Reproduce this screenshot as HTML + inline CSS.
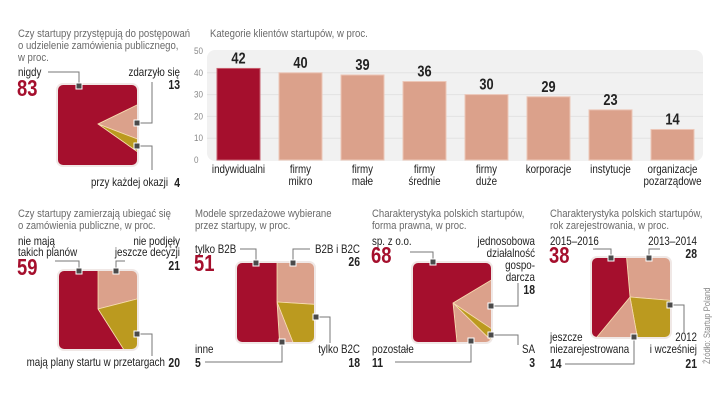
<!DOCTYPE html>
<html><head><meta charset="utf-8"><style>
html,body{margin:0;padding:0;background:#fff;width:720px;height:406px;overflow:hidden}
svg{display:block}
text{font-family:"Liberation Sans Narrow","Liberation Sans",sans-serif}
.t{fill:#6a6a6a;font-size:11px}
.l{fill:#222;font-size:11.5px}
.big{fill:#a50f2d;font-size:23px;font-weight:bold}
.n{fill:#222;font-size:13px;font-weight:bold}
.ax{fill:#888;font-size:9px}
.ld{stroke:#777;stroke-width:1;fill:none}
</style></head><body>
<svg id="c" width="720" height="406" viewBox="0 0 720 406" xmlns="http://www.w3.org/2000/svg">
<rect width="720" height="406" fill="#fff"/>
<g id="bars"></g>
<g id="pies"></g>
<g id="ann">
<text class="t" x="18" y="37">Czy startupy przystępują do postępowań</text>
<text class="t" x="18" y="49">o udzielenie zamówienia publicznego,</text>
<text class="t" x="18" y="61">w proc.</text>
<text class="l" x="18" y="76">nigdy</text>
<text class="big" x="17" y="96">83</text>
<text class="l" x="180" y="76" text-anchor="end">zdarzyło się</text>
<text class="n" x="180" y="89" text-anchor="end">13</text>
<text class="l" x="168" y="186" text-anchor="end">przy każdej okazji</text>
<text class="n" x="180" y="187" text-anchor="end">4</text>
<path class="ld" d="M48 72H79V86M137 123H152V82M137 146H152V170"/>
<text class="t" x="18" y="217">Czy startupy zamierzają ubiegać się</text>
<text class="t" x="18" y="229">o zamówienia publiczne, w proc.</text>
<text class="l" x="18" y="245">nie mają</text>
<text class="l" x="18" y="256">takich planów</text>
<text class="big" x="17" y="275">59</text>
<text class="l" x="180" y="245" text-anchor="end">nie podjęły</text>
<text class="l" x="180" y="256" text-anchor="end">jeszcze decyzji</text>
<text class="n" x="180" y="270" text-anchor="end">21</text>
<text class="l" x="165" y="366" text-anchor="end">mają plany startu w przetargach</text>
<text class="n" x="180" y="367" text-anchor="end">20</text>
<path class="ld" d="M55 261H79V271M116 271V261H125M137 334H152V356"/>
<text class="t" x="195" y="217">Modele sprzedażowe wybierane</text>
<text class="t" x="195" y="229">przez startupy, w proc.</text>
<text class="l" x="195" y="253">tylko B2B</text>
<text class="big" x="194" y="271">51</text>
<text class="l" x="360" y="253" text-anchor="end">B2B i B2C</text>
<text class="n" x="360" y="266" text-anchor="end">26</text>
<text class="l" x="360" y="353" text-anchor="end">tylko B2C</text>
<text class="n" x="360" y="367" text-anchor="end">18</text>
<text class="l" x="195" y="353">inne</text>
<text class="n" x="195" y="367">5</text>
<path class="ld" d="M240 249H256V263M293 263V249H310M316 317H330V343M205 362H282V342"/>
<text class="t" x="372" y="217">Charakterystyka polskich startupów,</text>
<text class="t" x="372" y="229">forma prawna, w proc.</text>
<text class="l" x="372" y="245">sp. z o.o.</text>
<text class="big" x="371" y="263">68</text>
<text class="l" x="535" y="245" text-anchor="end">jednosobowa</text>
<text class="l" x="535" y="257" text-anchor="end">działalność</text>
<text class="l" x="535" y="269" text-anchor="end">gospo-</text>
<text class="l" x="535" y="281" text-anchor="end">darcza</text>
<text class="n" x="535" y="294" text-anchor="end">18</text>
<text class="l" x="535" y="353" text-anchor="end">SA</text>
<text class="n" x="535" y="367" text-anchor="end">3</text>
<text class="l" x="372" y="353">pozostałe</text>
<text class="n" x="372" y="367">11</text>
<path class="ld" d="M410 252H433V262M491 306H518V283M491 335H518V345M395 362H471V341"/>
<text class="t" x="550" y="217">Charakterystyka polskich startupów,</text>
<text class="t" x="550" y="229">rok zarejestrowania, w proc.</text>
<text class="l" x="550" y="245">2015–2016</text>
<text class="big" x="549" y="263">38</text>
<text class="l" x="697" y="245" text-anchor="end">2013–2014</text>
<text class="n" x="697" y="258" text-anchor="end">28</text>
<text class="l" x="697" y="341" text-anchor="end">2012</text>
<text class="l" x="697" y="353" text-anchor="end">i wcześniej</text>
<text class="n" x="697" y="368" text-anchor="end">21</text>
<text class="l" x="550" y="341">jeszcze</text>
<text class="l" x="550" y="353">niezarejestrowana</text>
<text class="n" x="550" y="368">14</text>
<path class="ld" d="M593 249H611V258M649 258V249H660M670 305H684V333M565 364H634V337"/>
<text id="src" x="0" y="0" transform="translate(710,364) rotate(-90) scale(0.85,1)" style="fill:#888;font-size:9px">Źródło: Startup Poland</text>
</g>
<g id="marks"></g>
</svg>
<script>
// ---- Bar chart data ----
const barCategories = [["indywidualni"],["firmy","mikro"],["firmy","małe"],["firmy","średnie"],["firmy","duże"],["korporacje"],["instytucje"],["organizacje","pozarządowe"]];
const barValues = [42,40,39,36,30,29,23,14];
const barTicks = [0,10,20,30,40,50];
const barTitle = "Kategorie klientów startupów, w proc.";

// ---- Square pie data ----
const pie1Values = [13,4,83];
const pie2Values = [21,20,59];
const pie3Values = [26,18,5,51];
const pie4Values = [18,3,11,68];
const pie5Values = [28,21,14,38];

const NS="http://www.w3.org/2000/svg";
function mk(tag,attrs,parent){const e=document.createElementNS(NS,tag);for(const k in attrs)e.setAttribute(k,attrs[k]);parent.appendChild(e);return e;}
const RED="#a50f2d",PEACH="#dba18b",GOLD="#bb9a1f";

const bg=document.getElementById('bars');
const y0=160,y50=51;
const yS=v=>y0-(v/50)*(y0-y50);
const xC=i=>238.5+i*62;
const t=mk('text',{x:210,y:37,class:'t'},bg);t.textContent=barTitle;


const pb=mk('rect',{x:207,y:50,width:496,height:111,rx:8,fill:'#f1f1f1'},bg);


barTicks.forEach(v=>{
  if(v>0&&v<50){mk('line',{x1:207,x2:703,y1:yS(v),y2:yS(v),stroke:'#e2e2e2','stroke-width':1},bg);}
  const tx=mk('text',{x:194,y:yS(v)+3,class:'ax'},bg);tx.textContent=v;
  
  
});
barValues.forEach((v,i)=>{
  const r=mk('rect',{x:xC(i)-21.5,y:yS(v),width:43,height:y0-yS(v),fill:i===0?RED:PEACH,stroke:i===0?'#c8606f':'#ecc6b7','stroke-width':1},bg);
  
  
  const vl=mk('text',{x:xC(i),y:yS(v)-5,'text-anchor':'middle',style:'fill:#222;font-size:16px;font-weight:bold'},bg);vl.textContent=v;
  
  
  barCategories[i].forEach((s,j)=>{
    const c=mk('text',{x:xC(i),y:173+j*12,'text-anchor':'middle',class:'l'},bg);c.textContent=s;
    
    
  });
});

const pg=document.getElementById('pies');
function squarePie(id,x,y,w,h,cx,cy,start,values,colors){
  const g=mk('g',{},pg);
  
  
  mk('rect',{x:x-2,y:y-2,width:w+4,height:h+4,rx:7,fill:'#f0e8e6'},g);
  const cp=mk('clipPath',{id:'cp'+id},g);
  mk('rect',{x:x,y:y,width:w,height:h,rx:5},cp);
  const inner=mk('g',{'clip-path':'url(#cp'+id+')'},g);
  const tot=values.reduce((a,b)=>a+b,0);let a=start*Math.PI/180;const R=150;
  values.forEach((v,i)=>{
    const a2=a+v/tot*2*Math.PI;
    const large=(a2-a)>Math.PI?1:0;
    const p=mk('path',{d:`M${cx} ${cy}L${cx+R*Math.cos(a)} ${cy+R*Math.sin(a)}A${R} ${R} 0 ${large} 1 ${cx+R*Math.cos(a2)} ${cy+R*Math.sin(a2)}Z`,fill:colors[i],stroke:'#f6dcb0','stroke-width':0.8},inner);
    
    
    a=a2;
  });
}
squarePie(1,58,85,79,80,98,124,-26,pie1Values,[PEACH,GOLD,RED]);
squarePie(2,59,271,78,78,98,309,-90,pie2Values,[PEACH,GOLD,RED]);
squarePie(3,237,263,77,79,277,302,-90,pie3Values,[PEACH,GOLD,PEACH,RED]);
squarePie(4,413,263,78,79,453,303,-31,pie4Values,[PEACH,GOLD,PEACH,RED]);
squarePie(5,592,258,78,79,630,297,-95,pie5Values,[PEACH,GOLD,PEACH,RED]);

const mg=document.getElementById('marks');
[[79,86],[137,123],[137,146],[79,271],[116,271],[137,334],[256,263],[293,263],[316,317],[282,342],[433,262],[491,306],[491,335],[471,341],[611,258],[649,258],[670,305],[634,337]].forEach(p=>{
  const m=mk('rect',{x:p[0]-3,y:p[1]-3,width:6,height:6,fill:'#4a4a4a',stroke:'#fff','stroke-width':1},mg);
  
  
});

// condense text horizontally (narrow font emulation)
document.querySelectorAll('svg text').forEach(el=>{
  if(el.id==='src')return;
  const x=parseFloat(el.getAttribute('x'))||0;
  let k=0.8;
  if(el.classList.contains('ax'))k=0.9;
  else if(el.classList.contains('t'))k=0.87;
  else if(el.classList.contains('l'))k=0.85;
  el.setAttribute('transform',`translate(${x},0) scale(${k},1) translate(${-x},0)`);
});
</script>
</body></html>
